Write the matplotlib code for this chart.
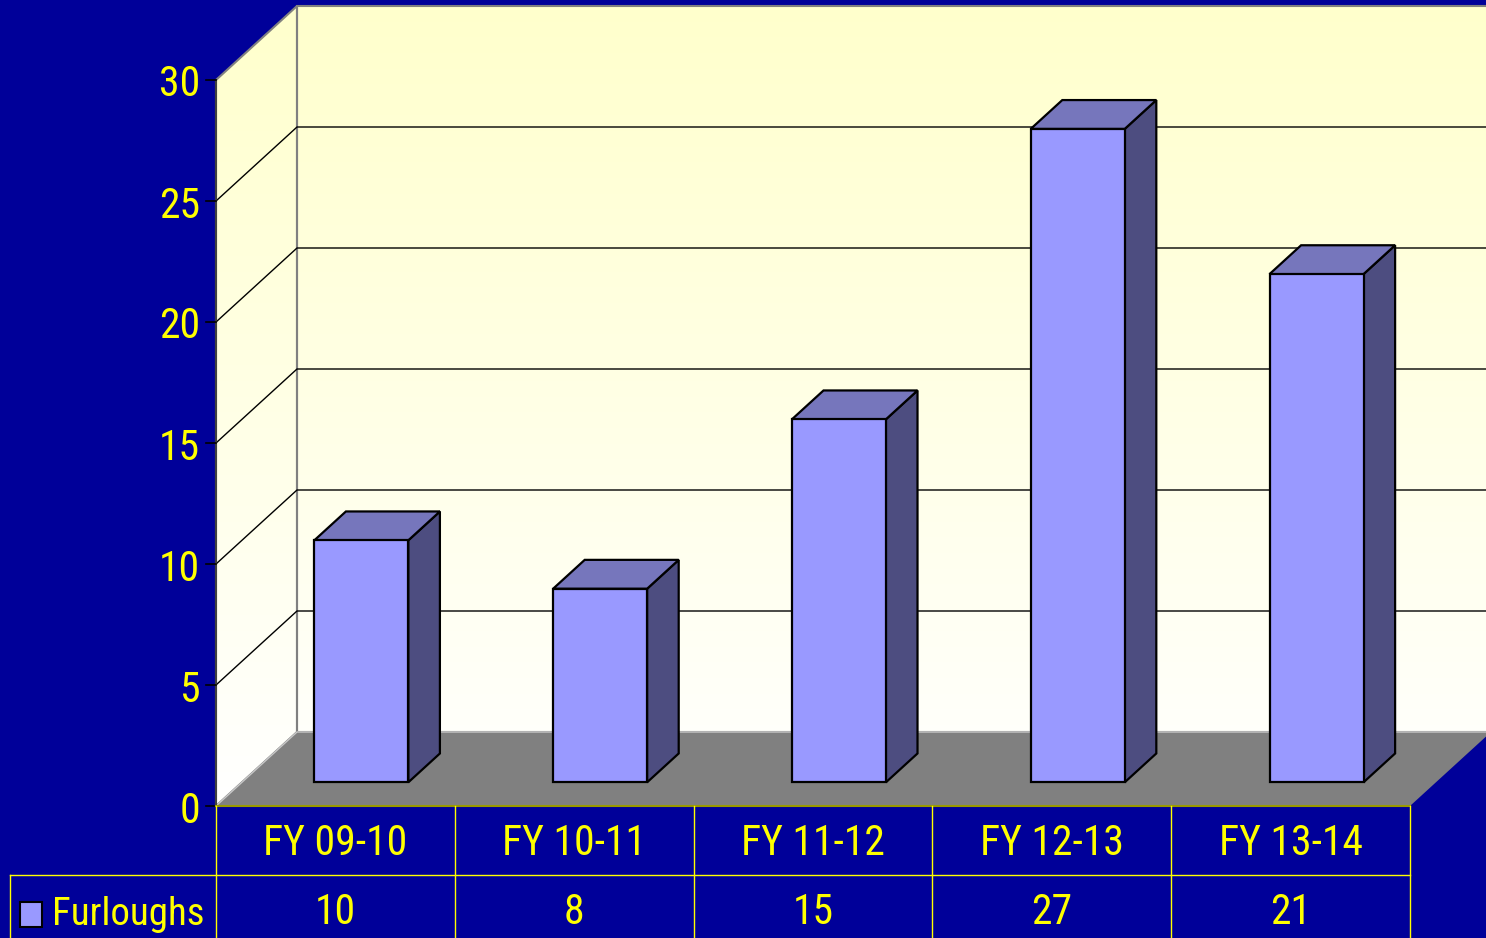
import numpy as np
import matplotlib
matplotlib.use("Agg")
import matplotlib.pyplot as plt
from matplotlib import font_manager as fm
from matplotlib.patches import Polygon, Rectangle

# data
categories = ["FY 09-10", "FY 10-11", "FY 11-12", "FY 12-13", "FY 13-14"]
furloughs = [10, 8, 15, 27, 21]
yticks = [0, 5, 10, 15, 20, 25, 30]
series_name = "Furloughs"

BG = "#000099"
YEL = "#FFFF00"
FRONT = "#9999FF"
TOP = "#7676BC"
SIDE = "#4D4D80"

# the original uses a narrow Arial-like face; use one if there is one
installed = {f.name for f in fm.fontManager.ttflist}
narrow = [n for n in ("Liberation Sans Narrow", "Arial Narrow", "Roboto Condensed")
          if n in installed]
if narrow:
    FONT = [narrow[0], "DejaVu Sans"]
    FS = 30
else:
    FONT = ["Liberation Sans", "DejaVu Sans"]
    FS = 26

W, H = 1486, 938
ppx = 238.8    # pixels per category
ppy = 24.2     # pixels per unit
x0px, y0px = 216, 806   # front-left corner of the plot floor
DX = 81 / ppx  # depth offset, in category units
DY = 74 / ppy  # depth offset, in value units
n = len(categories)
ymax = 30

fig = plt.figure(figsize=(W / 100, H / 100), dpi=100, facecolor=BG)
ax = fig.add_axes([0, 0, 1, 1])
ax.set_xlim(-x0px / ppx, (W - x0px) / ppx)
ax.set_ylim(-(H - y0px) / ppy, y0px / ppy)
ax.set_facecolor(BG)
ax.axis("off")


def P(x, y, z):
    # project a 3d point (category, value, depth 0..1) onto the axes
    return (x + z * DX, y + z * DY)


# gradient for the walls
grad = np.linspace(0, 1, 256).reshape(-1, 1)
cmap = matplotlib.colors.LinearSegmentedColormap.from_list("wall", ["#FFFFFF", "#FFFFCC"])

back = Polygon([P(0, 0, 1), P(n, 0, 1), P(n, ymax, 1), P(0, ymax, 1)], closed=True,
               facecolor="none", edgecolor="#808080", lw=1.5, zorder=1)
side = Polygon([P(0, 0, 0), P(0, 0, 1), P(0, ymax, 1), P(0, ymax, 0)], closed=True,
               facecolor="none", edgecolor="#808080", lw=1.5, zorder=1)
for poly in (back, side):
    ax.add_patch(poly)
    im = ax.imshow(grad, cmap=cmap, aspect="auto", origin="lower",
                   extent=(0, n + DX, 0, ymax + DY), zorder=0.5)
    im.set_clip_path(poly)

# gridlines
for v in yticks[1:-1]:
    ax.plot([P(0, v, 0)[0], P(0, v, 1)[0], P(n, v, 1)[0]],
            [P(0, v, 0)[1], P(0, v, 1)[1], P(n, v, 1)[1]], color="black", lw=1.0, zorder=1.5)

# floor
floor = Polygon([P(0, 0, 0), P(n, 0, 0), P(n, 0, 1), P(0, 0, 1)], closed=True,
                facecolor="#808080", edgecolor="none", zorder=2)
ax.add_patch(floor)
ax.plot([P(0, 0, 0)[0], P(0, 0, 1)[0], P(n, 0, 1)[0]],
        [P(0, 0, 0)[1], P(0, 0, 1)[1], P(n, 0, 1)[1]], color="#C8C8C8", lw=1, zorder=2.1)

# left axis line and ticks
ax.plot([0, 0], [0, ymax], color="#404040", lw=1.5, zorder=2.2)
for v in yticks:
    ax.plot([-10 / ppx, 0], [v, v], color="black", lw=1.2, zorder=2.2)
    ax.text(-16 / ppx, v - 5 / ppy, str(v), color=YEL, fontsize=FS, family=FONT,
            ha="right", va="center", zorder=3)

# bars
bw = 94 / ppx
z0, z1 = 0.32, 0.71
for i, val in enumerate(furloughs):
    xl = i + 0.5 - bw / 2
    xr = i + 0.5 + bw / 2
    front = [P(xl, 0, z0), P(xr, 0, z0), P(xr, val, z0), P(xl, val, z0)]
    top = [P(xl, val, z0), P(xr, val, z0), P(xr, val, z1), P(xl, val, z1)]
    rside = [P(xr, 0, z0), P(xr, 0, z1), P(xr, val, z1), P(xr, val, z0)]
    for pts, col in ((rside, SIDE), (top, TOP), (front, FRONT)):
        ax.add_patch(Polygon(pts, closed=True, facecolor=col, edgecolor="black",
                             lw=1.6, joinstyle="miter", zorder=3))

# data table
r1 = -(875 - y0px) / ppy
rb = -(H - y0px) / ppy - 1
left_px = -(x0px - 10) / ppx
ax.plot([0, n], [0, 0], color="#999900", lw=1.5, zorder=4)
ax.plot([left_px, n], [r1, r1], color=YEL, lw=1, zorder=4)
ax.plot([left_px, left_px], [r1, rb], color=YEL, lw=1, zorder=4)
for i in range(n + 1):
    ax.plot([i, i], [0, rb], color=YEL, lw=1, zorder=4)
for i, (c, val) in enumerate(zip(categories, furloughs)):
    ax.text(i + 0.5, -37 / ppy, c, color=YEL, fontsize=FS, family=FONT,
            ha="center", va="center", zorder=5)
    ax.text(i + 0.5, -(912 - y0px) / ppy, str(val), color=YEL, fontsize=FS, family=FONT,
            ha="center", va="center", zorder=5)

# legend key in the table
ax.add_patch(Rectangle((-(x0px - 20) / ppx, -(927 - y0px) / ppy), 22 / ppx, 25 / ppy,
                       facecolor=FRONT, edgecolor="black", lw=1.5, zorder=5))
ax.text(-(x0px - 52) / ppx, -(914 - y0px) / ppy, series_name, color=YEL, fontsize=FS - 2,
        family=FONT, ha="left", va="center", zorder=5)

fig.savefig("out.png", dpi=100, facecolor=BG)
